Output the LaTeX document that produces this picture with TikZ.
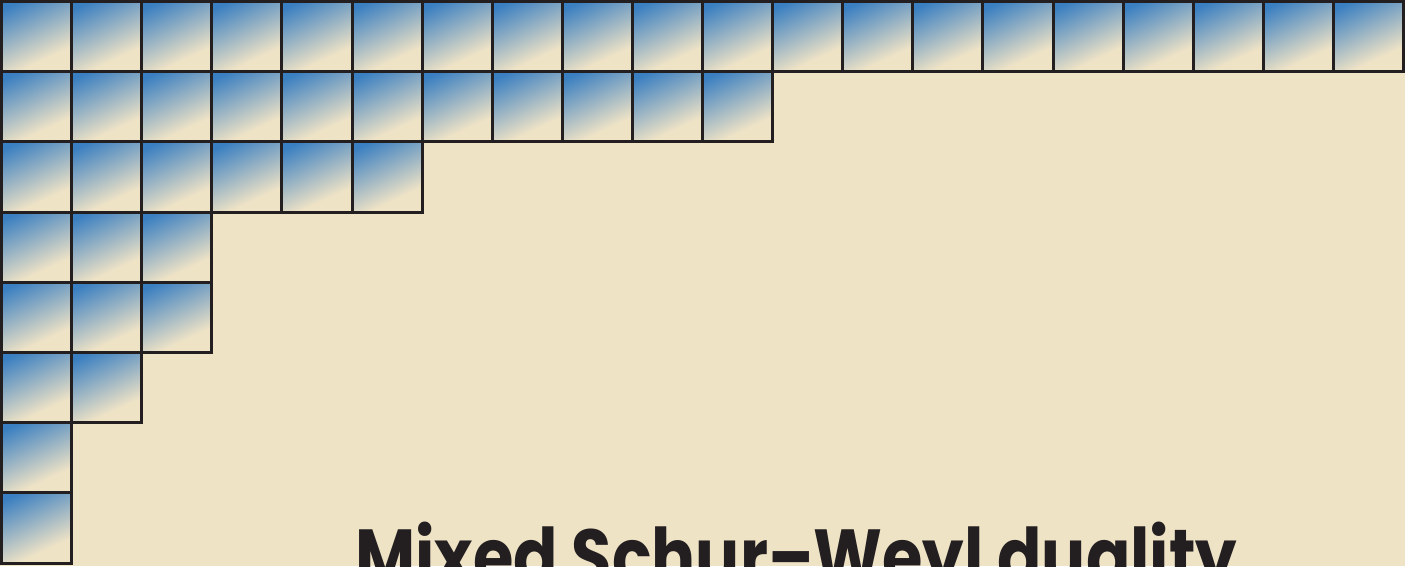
\documentclass[tikz,border=0pt]{standalone}
\usepackage{fontspec}
\setmainfont{Poppins}
\definecolor{cream}{HTML}{EFE3C6}
\definecolor{tileblue}{HTML}{3A7FC1}
\definecolor{ink}{HTML}{231F20}
\pgfdeclareverticalshading{tile}{100bp}{color(0bp)=(cream); color(25bp)=(cream); color(33bp)=(cream); color(78bp)=(tileblue); color(100bp)=(tileblue)}
\tikzset{
  tilefill/.style={shading=tile, shading angle=25},
  tileedge/.style={draw=ink, line width=3pt},
  titletext/.style={anchor=base west, inner sep=0pt, text=ink, font=\fontsize{78}{82}\selectfont\bfseries}
}
\begin{document}
\begin{tikzpicture}[x=1pt,y=1pt]
\fill[cream] (0,0) rectangle (1405,566);
\useasboundingbox (0,0) rectangle (1405,566);
\foreach \r/\n in {0/20,1/11,2/6,3/3,4/3,5/2,6/1,7/1}{
  \foreach \c in {1,...,\n}{
    \pgfmathsetmacro\xa{1.5+(\c-1)*70.1}
    \pgfmathsetmacro\ya{564.5-\r*70.2}
    \path[tilefill] (\xa,\ya) rectangle ++(70.1,-70.2);
    \path[tileedge] (\xa,\ya) rectangle ++(70.1,-70.2);
  }
}
\node[titletext] (title) at (355,-18) {\resizebox{882pt}{\height}{Mixed Schur–Weyl duality}};
\end{tikzpicture}
\end{document}
